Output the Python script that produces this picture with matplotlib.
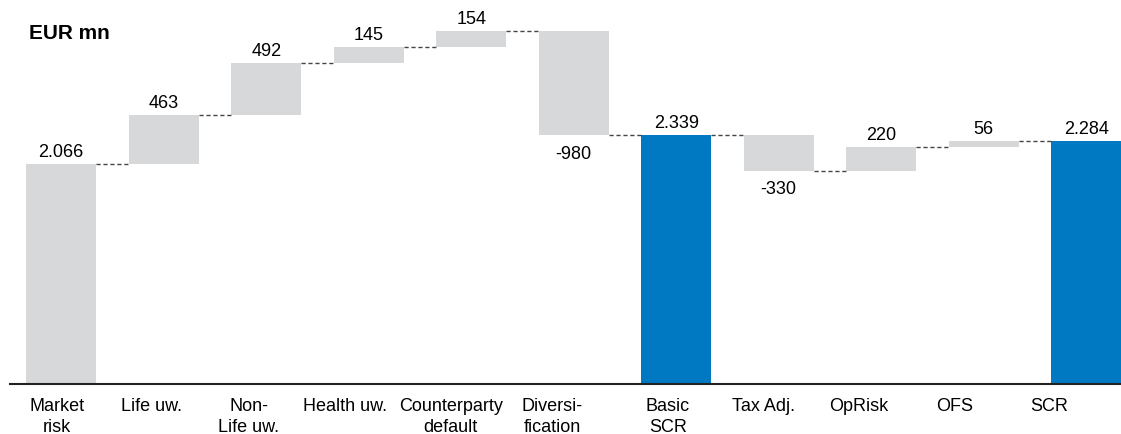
import matplotlib
matplotlib.use('Agg')
import matplotlib.pyplot as plt
from matplotlib.patches import Rectangle

plt.rcParams['font.family'] = ['Liberation Sans', 'DejaVu Sans']

# waterfall items: steps add to the running level, totals reset it
categories = ['Market\nrisk', 'Life uw.', 'Non-\nLife uw.', 'Health uw.', 'Counterparty\ndefault',
              'Diversi-\nfication', 'Basic\nSCR', 'Tax Adj.', 'OpRisk', 'OFS', 'SCR']
values = [2066, 463, 492, 145, 154, -980, 2339, -330, 220, 56, 2284]
is_total = [False, False, False, False, False, False, True, False, False, False, True]
# label centres shifted a bit left of the bars (in bar units)
label_shift = [0.04, 0.12, 0.17, 0.23, 0.2, 0.21, 0.08, 0.15, 0.22, 0.28, 0.36]

grey = '#d7d8da'
blue = '#0079c2'
width = 0.68
fs = 13

fig = plt.figure(figsize=(11.21, 4.35), dpi=100)
ax = fig.add_axes([0.0089, 0.1138, 0.9911, 0.8862])

level = 0
for i, (v, tot) in enumerate(zip(values, is_total)):
    if tot or i == 0:
        lo, hi = 0, v
        new_level = v
        color = blue if tot else grey
    else:
        lo, hi = sorted([level, level + v])
        new_level = level + v
        color = grey
    ax.add_patch(Rectangle((i - width / 2, lo), width, hi - lo, facecolor=color, edgecolor='none'))

    # dashed connector from previous bar
    if i > 0:
        ax.plot([i - 1 + width / 2, i - width / 2], [level, level], color='#444444',
                lw=1.0, ls=(0, (3, 2)), zorder=1)

    txt = '{:,}'.format(v).replace(',', '.')
    if v >= 0:
        ax.annotate(txt, (i, hi), xytext=(0, 3), textcoords='offset points',
                    ha='center', va='bottom', fontsize=fs)
    else:
        ax.annotate(txt, (i, lo), xytext=(0, -7), textcoords='offset points',
                    ha='center', va='top', fontsize=fs)
    level = new_level

ax.set_xlim(-0.5, 10.34)
ax.set_ylim(0, 3620)

for i, lab in enumerate(categories):
    ax.annotate(lab, (i - label_shift[i], 0), xytext=(0, -9), textcoords='offset points',
                ha='center', va='top', fontsize=fs, linespacing=1.3)

ax.set_xticks([])
ax.set_yticks([])
for s in ['top', 'right', 'left']:
    ax.spines[s].set_visible(False)
ax.spines['bottom'].set_linewidth(1.5)
ax.spines['bottom'].set_color('#222222')

fig.text(0.026, 0.923, 'EUR mn', fontsize=15, fontweight='bold', ha='left', va='center')

fig.savefig('out.png', dpi=100)
